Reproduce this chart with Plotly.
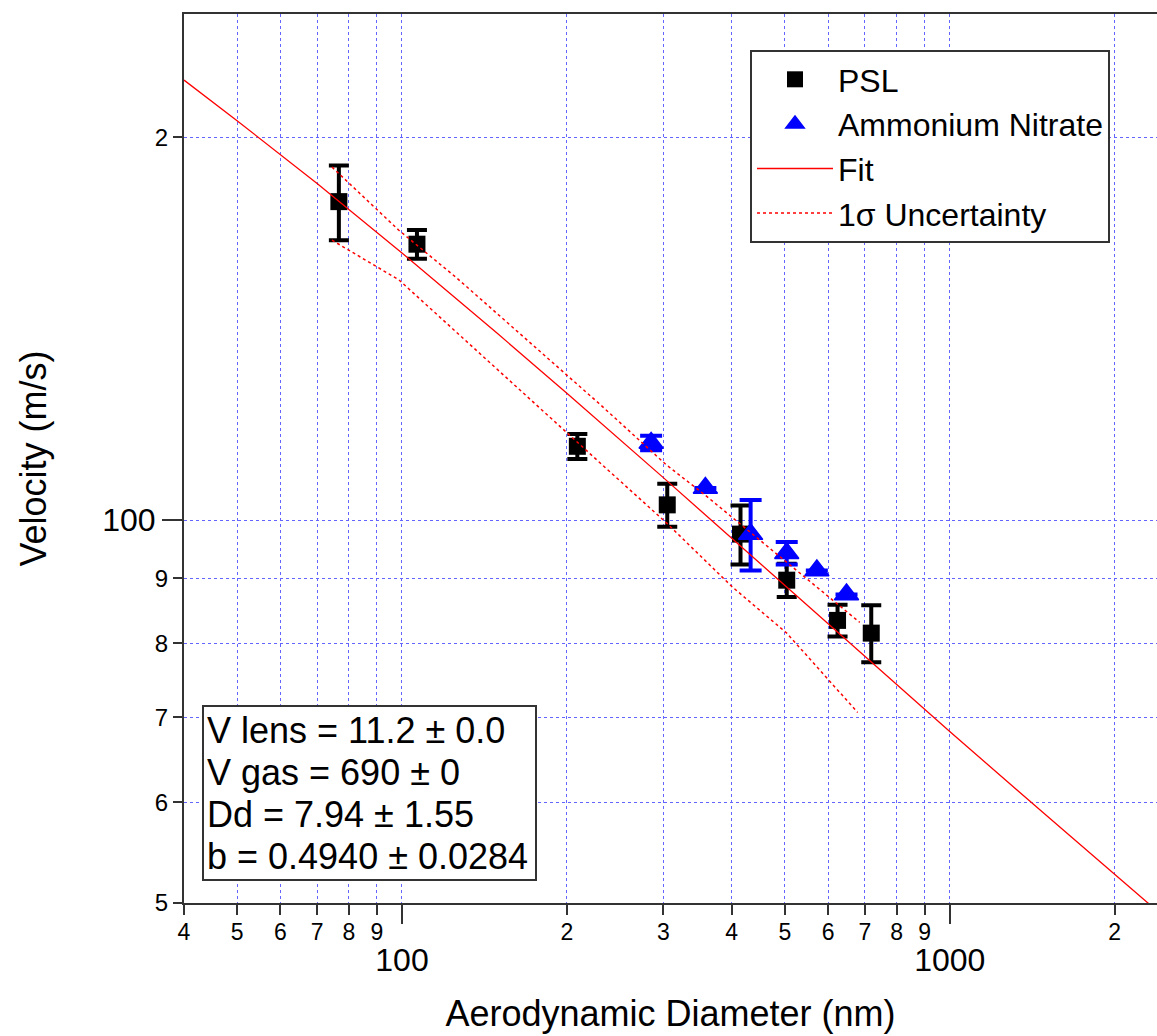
import math
import plotly.graph_objects as go

# ---------------- data ----------------
psl_d = [76.7, 106.5, 209, 305, 415, 504, 624, 719]
psl_v = [178.0, 164.8, 114.3, 102.8, 97.5, 89.7, 83.4, 81.5]
psl_err = [12.0, 4.3, 2.6, 4.0, 5.2, 2.7, 2.4, 4.2]

an_d = [285, 358, 433, 504, 572, 648]
an_v = [115.0, 106.0, 97.5, 94.2, 91.3, 87.4]
an_err = [1.5, None, 6.2, 1.9, None, None]

fit_d = [40, 50, 70, 100, 150, 200, 300, 400, 500, 700, 1000, 1500, 2000, 2390]
fit_v = [221.8, 206.1, 183.9, 162.2, 140.0, 125.8, 108.0, 96.8, 88.9, 78.1, 68.2, 58.6, 52.7, 49.3]

up_d = [74.5, 98.7, 125.5, 229, 304, 358, 685]
up_v = [189.5, 169.0, 155.2, 123.5, 110.5, 104.6, 83.1]

low_d = [74.5, 98.7, 229, 304, 401, 504, 679]
low_v = [166.0, 154.5, 111.1, 99.5, 88.6, 81.5, 70.6]

x_minor_vals = [40, 50, 60, 70, 80, 90, 200, 300, 400, 500, 600, 700, 800, 900, 2000]
x_minor_text = ["4", "5", "6", "7", "8", "9", "2", "3", "4", "5", "6", "7", "8", "9", "2"]
x_major_vals = [100, 1000]
x_major_text = ["100", "1000"]

y_minor_vals = [50, 60, 70, 80, 90, 200]
y_minor_text = ["5", "6", "7", "8", "9", "2"]
y_major_vals = [100]
y_major_text = ["100"]

x_range = [40, 2390]
y_range = [50, 250]

stats_lines = ["V lens = 11.2 ± 0.0", "V gas = 690 ± 0", "Dd = 7.94 ± 1.55", "b = 0.4940 ± 0.0284"]

# ---------------- styling ----------------
FONT = "Liberation Sans, Arial, sans-serif"
AXC = "#333333"
GRIDC = "rgb(100,100,255)"
GRIDDASH = "3px,3px"

fig = go.Figure()

fig.add_trace(go.Scatter(
    x=psl_d, y=psl_v, mode="markers", name="PSL",
    marker=dict(symbol="square", size=17, color="black"),
    error_y=dict(type="data", array=psl_err, color="black", thickness=4, width=10),
))
fig.add_trace(go.Scatter(
    x=an_d, y=an_v, mode="markers", name="Ammonium Nitrate",
    marker=dict(symbol="triangle-up", size=21, color="rgb(0,0,255)",
                line=dict(width=1.5, color="rgb(0,0,255)")),
    error_y=dict(type="data", array=an_err, color="rgb(0,0,255)", thickness=4, width=11),
))
fig.add_trace(go.Scatter(
    x=fit_d, y=fit_v, mode="lines", name="Fit",
    line=dict(color="rgb(255,0,0)", width=1.3),
))
fig.add_trace(go.Scatter(
    x=up_d, y=up_v, mode="lines", name="1σ Uncertainty", legendgroup="unc",
    line=dict(color="rgb(255,0,0)", width=1.5, dash="dot"),
))
fig.add_trace(go.Scatter(
    x=low_d, y=low_v, mode="lines", name="1σ Uncertainty", legendgroup="unc",
    showlegend=False,
    line=dict(color="rgb(255,0,0)", width=1.5, dash="dot"),
))
# invisible helpers so the overlaid axes (major ticks / titles) are drawn
fig.add_trace(go.Scatter(x=[x_major_vals[0]], y=[y_major_vals[0]], xaxis="x2", yaxis="y",
                         mode="markers", marker=dict(opacity=0), showlegend=False, hoverinfo="skip"))
fig.add_trace(go.Scatter(x=[x_major_vals[0]], y=[y_major_vals[0]], xaxis="x", yaxis="y2",
                         mode="markers", marker=dict(opacity=0), showlegend=False, hoverinfo="skip"))

lx = [math.log10(v) for v in x_range]
ly = [math.log10(v) for v in y_range]

common_grid = dict(showgrid=True, gridcolor=GRIDC, griddash=GRIDDASH, gridwidth=1.3, zeroline=False)

fig.update_layout(
    width=1157, height=1036,
    margin=dict(l=184, r=0, t=14, b=133),
    paper_bgcolor="white", plot_bgcolor="white",
    font=dict(family=FONT, color="black"),
    xaxis=dict(
        type="log", range=lx, tickmode="array", tickvals=x_minor_vals, ticktext=x_minor_text,
        ticks="outside", ticklen=10, tickwidth=2, tickcolor=AXC, tickfont=dict(size=23),
        ticklabelstandoff=-3,
        showline=True, linecolor=AXC, linewidth=2, mirror=True, **common_grid,
    ),
    xaxis2=dict(
        type="log", range=lx, overlaying="x", anchor="y", side="bottom",
        tickmode="array", tickvals=x_major_vals, ticktext=x_major_text,
        ticks="outside", ticklen=20, tickwidth=2, tickcolor=AXC, tickfont=dict(size=32),
        ticklabelstandoff=9,
        showline=False, **common_grid,
        title=dict(text="Aerodynamic Diameter (nm)", font=dict(size=36), standoff=23),
    ),
    yaxis=dict(
        type="log", range=ly, tickmode="array", tickvals=y_minor_vals, ticktext=y_minor_text,
        ticks="outside", ticklen=9, tickwidth=2, tickcolor=AXC, tickfont=dict(size=24),
        showline=True, linecolor=AXC, linewidth=2, mirror=False, **common_grid,
    ),
    yaxis2=dict(
        type="log", range=ly, overlaying="y", anchor="x", side="left",
        tickmode="array", tickvals=y_major_vals, ticktext=y_major_text,
        ticks="outside", ticklen=21, tickwidth=2, tickcolor=AXC, tickfont=dict(size=32),
        showline=False, **common_grid,
        title=dict(text="Velocity (m/s)", font=dict(size=36), standoff=44),
    ),
    legend=dict(
        x=(750 - 184) / 973, y=(903 - 50) / 889, xanchor="left", yanchor="top",
        bgcolor="white", bordercolor=AXC, borderwidth=2, font=dict(size=32),
        tracegroupgap=0, itemwidth=76,
    ),
    showlegend=True,
)

# statistics box
fig.add_shape(
    type="rect", xref="paper", yref="paper",
    x0=(203 - 184) / 973, x1=(536 - 184) / 973,
    y0=(903 - 880) / 889, y1=(903 - 706) / 889,
    line=dict(color=AXC, width=2), fillcolor="white", layer="above",
)
line_centers = [730, 772, 814, 856]
for txt, py in zip(stats_lines, line_centers):
    fig.add_annotation(
        x=(205 - 184) / 973, y=(903 - py) / 889, xref="paper", yref="paper",
        xanchor="left", yanchor="middle", text=txt, showarrow=False,
        font=dict(size=36, color="black"),
    )

fig.write_html("out.html")
